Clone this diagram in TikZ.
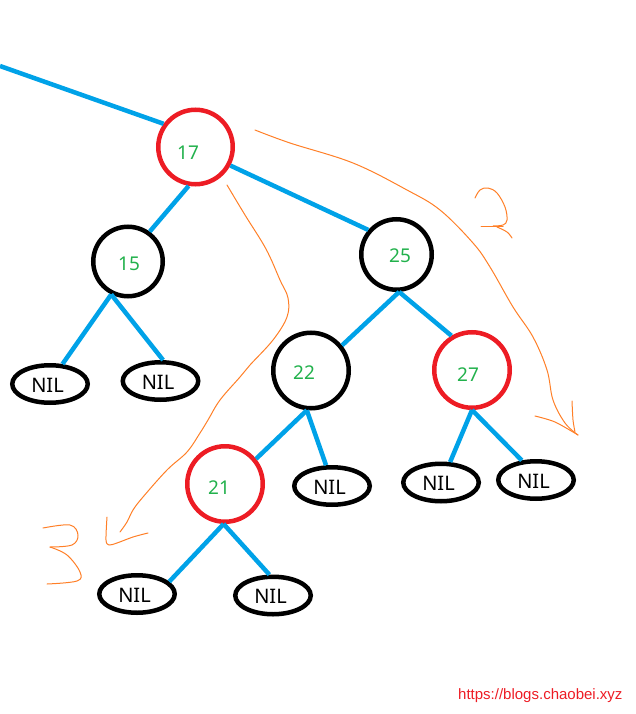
\documentclass[tikz,border=0pt]{standalone}
\usepackage{fontspec}
\setmainfont{Noto Sans}
\newfontfamily\wmfont{Liberation Sans}
\usetikzlibrary{shapes.geometric}
\definecolor{pred}{HTML}{ED1C24}
\definecolor{pblue}{HTML}{00A2E8}
\definecolor{pgreen}{HTML}{22B14C}
\definecolor{porange}{HTML}{FF7F27}
\begin{document}
\begin{tikzpicture}[x=1pt,y=-1pt,
  rb/.style={circle, draw=#1, line width=4.5pt, inner sep=0pt},
  nil/.style={ellipse, draw=black, line width=4.5pt, minimum width=75.5pt, minimum height=37.5pt, inner sep=0pt,
    label={[niltext, xshift=-2.5pt, yshift=-1.3pt]center:NIL}},
  niltext/.style={text=black, font=\fontsize{20}{20}\selectfont},
  num/.style={text=pgreen, font=\fontsize{19}{19}\selectfont},
  edge/.style={draw=pblue, line width=4.5pt},
  hand/.style={draw=porange, line width=1pt, line cap=round, line join=round}
]
\useasboundingbox (0,0) rectangle (636,714);

% tree nodes
\node[rb=pred, minimum size=74.5pt, label={[num, xshift=-7.5pt, yshift=-5.5pt]center:17}] (n17) at (195.5,147) {};
\node[rb=black, minimum size=69.5pt, label={[num, xshift=1pt, yshift=-2pt]center:15}] (n15) at (128,261.5) {};
\node[rb=black, minimum size=70.5pt, label={[num, xshift=3.5pt, yshift=-1pt]center:25}] (n25) at (396.5,254.5) {};
\node[rb=black, minimum size=75.5pt, label={[num, xshift=-7pt, yshift=-2pt]center:22}] (n22) at (311,370.5) {};
\node[rb=pred, minimum size=75.5pt, label={[num, xshift=-4pt, yshift=-4.5pt]center:27}] (n27) at (472,370) {};
\node[rb=pred, minimum size=75.5pt, label={[num, xshift=-6pt, yshift=-3.5pt]center:21}] (n21) at (225,484) {};

\node[nil] (l1) at (50,384) {};
\node[nil] (l2) at (160.5,381) {};
\node[nil] (l3) at (332,486) {};
\node[nil] (l4) at (441,482.5) {};
\node[nil] (l5) at (536,480) {};
\node[nil] (l6) at (137,594) {};
\node[nil] (l7) at (273,595.5) {};

\coordinate (top) at (0,66);

% connectors
\draw[edge] (top) -- (n17.144);
\draw[edge] (n17.-100) -- (n15.54);
\draw[edge] (n17.-28) -- (n25.139);
\draw[edge] (n15.-117) -- (l1.58);
\draw[edge] (n15.-117) -- (l2.83);
\draw[edge] (n25.-86) -- (n22.39);
\draw[edge] (n25.-86) -- (n27.121);
\draw[edge] (n22.-96) -- (n21.39);
\draw[edge] (n22.-96) -- (l3.106);
\draw[edge] (n27.-90) -- (l4.66);
\draw[edge] (n27.-90) -- (l5.126);
\draw[edge] (n21.-92) -- (l6.21);
\draw[edge] (n21.-92) -- (l7.100);

% hand-drawn orange annotations
\draw[hand] plot[smooth, tension=0.6] coordinates {(255,130) (290,143) (353,163) (407,190) (440,210) (473,243) (490,267) (513,307) (533,337) (547,370) (553,400) (565,423) (578,435)};
\draw[hand] plot[smooth, tension=0.5] coordinates {(535,416) (555,422) (578,435)};
\draw[hand] plot[smooth, tension=0.5] coordinates {(572,401) (573,420) (575,432)};
\draw[hand] plot[smooth, tension=0.6] coordinates {(475,198) (480,190) (488,188) (497,193) (505,207) (507,220) (503,225) (493,226)};
\draw[hand] (481,226) -- (503,226);
\draw[hand] plot[smooth, tension=0.6] coordinates {(497,227) (507,232) (512,238)};

\draw[hand] plot[smooth, tension=0.6] coordinates {(227,185) (245,215) (266,249) (280,280) (288,298) (287,317) (273,340) (250,365) (240,377) (220,400) (208,420) (200,433) (187,452) (167,470) (143,497) (133,510) (127,522) (120,532)};
\draw[hand] plot[smooth, tension=0.5] coordinates {(107,517) (106,540) (109,545) (117,543) (133,537) (148,533)};
\draw[hand] plot[smooth, tension=0.6] coordinates {(43,528) (70,525) (78,535) (72,545) (50,547)};
\draw[hand] plot[smooth, tension=0.6] coordinates {(50,547) (67,555) (80,572) (77,581) (47,584)};

% watermark
\node[anchor=base west, text=pred, font=\fontsize{15}{15}\selectfont\wmfont, inner sep=0pt] (wm) at (458,699) {https://blogs.chaobei.xyz};
\end{tikzpicture}
\end{document}
